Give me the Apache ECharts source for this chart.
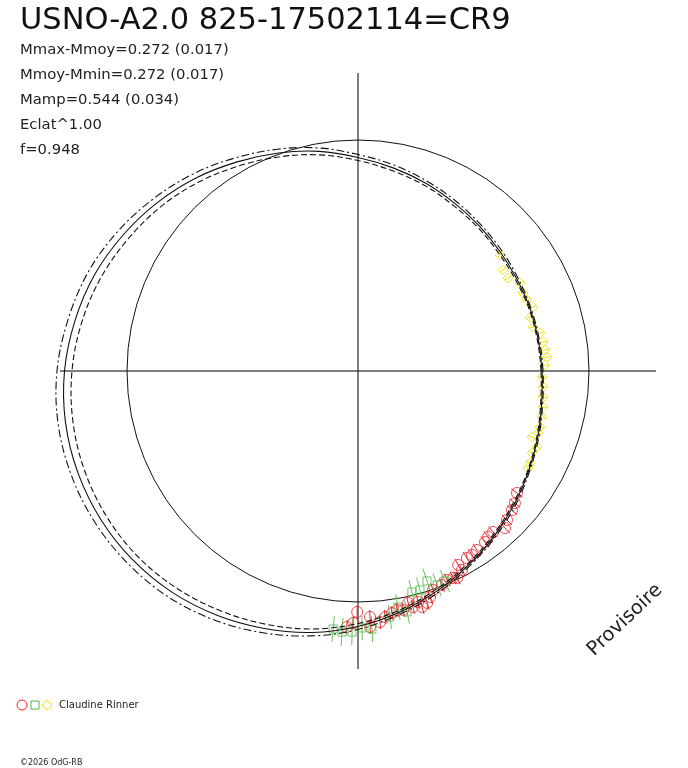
<!DOCTYPE html>
<html>
<head>
<meta charset="utf-8">
<script src="https://cdn.jsdelivr.net/npm/echarts@6/dist/echarts.min.js"></script>
<style>
html, body { margin: 0; padding: 0; background: #fff; }
#main { width: 688px; height: 768px; }
</style>
</head>
<body>
<div id="main"></div>
<script>
var myChart = echarts.init(document.getElementById('main'));

// fitted light curve, phase in degrees (0 = right, counter-clockwise)
var fitPhase = [0, 10, 20, 30, 40, 50, 60, 70, 80, 90, 100, 110, 120, 130, 140, 150, 160, 170, 180, 190, 200, 210, 220, 230, 240, 250, 260, 270, 280, 290, 300, 310, 320, 330, 340, 350];
var fitMid  = [184, 183, 183, 183.5, 185.5, 189, 193.5, 199.5, 206, 213.5, 223, 232, 241.5, 252, 262, 271.5, 280.5, 287.5, 293.5, 297, 298, 297, 294, 289, 282, 274, 265.5, 255.5, 244.5, 233.5, 223, 213.5, 205, 197.5, 191.5, 186.5];
var fitHigh = [185, 184, 184, 185, 187.5, 191, 196, 202, 209, 216.5, 226.5, 236, 246, 257, 267.5, 278, 287.5, 294.5, 301, 304.5, 305, 303.5, 300, 295, 287.5, 278.5, 269, 258.5, 246.5, 235.5, 224.5, 215, 206.5, 198.5, 192.5, 187.5];
var fitLow  = [183, 182, 182, 182, 183.5, 187, 191, 197, 203, 210.5, 219.5, 228, 237, 247, 256.5, 265, 273.5, 280.5, 286, 289.5, 291, 290.5, 288, 283, 276.5, 269.5, 262, 252.5, 242.5, 231.5, 221.5, 212, 203.5, 196.5, 190.5, 185.5];

// observations
var yellowPhase = [39.2, 34.9, 31.8, 28.5, 25.3, 22.8, 20.1, 17.4, 14.1, 11.8, 8.9, 6.4, 4.2, 1.8, 358.1, 355.1, 352.0, 349.0, 346.0, 342.9, 341.0, 339.2, 337.0, 334.8, 331.9, 330.3];
var yellowR = [183.4, 176.7, 176.5, 184.4, 182.5, 183.3, 186.3, 180.3, 180.4, 185.9, 187.3, 188.2, 189.5, 187.1, 184.1, 185.7, 186.8, 188.5, 189.7, 190.4, 190.4, 186.1, 194.5, 192.4, 195.1, 195.7];
var yellowErr = 4;

var redPhase = [322.5, 319.9, 317.9, 315.0, 313.1, 310.0, 308.1, 306.6, 303.6, 301.8, 300.2, 297.3, 297.6, 294.7, 295.6, 293.1, 291.4, 288.9, 287.7, 286.6, 285.2, 284.6, 283.1, 282.2, 280.7, 279.3, 278.0, 276.3, 275.0, 272.8, 269.8, 268.9, 267.5, 272.7];
var redR = [200.4, 205.1, 207.5, 210.7, 215.1, 210.1, 210.8, 213.0, 214.9, 216.5, 216.4, 218.3, 224.5, 227.8, 229.5, 227.2, 229.9, 231.5, 237.2, 242.0, 244.5, 238.7, 242.3, 237.3, 243.2, 242.2, 244.4, 247.5, 252.0, 246.3, 241.0, 252.0, 256.2, 256.3];
var redErr = 7;

var greenPhase = [264.5, 266.5, 268.7, 270.9, 273.1, 277.4, 279.6, 281.5, 283.7, 285.8, 288.2, 290.3, 292.5];
var greenR = [259.2, 261.5, 261.1, 257.0, 258.4, 248.1, 239.4, 245.9, 227.5, 227.6, 221.0, 228.1, 227.3];
var greenErr = [13, 14, 13, 12, 13, 12, 13, 12, 12, 13, 13, 12, 12];

var titleText = 'USNO-A2.0 825-17502114=CR9';
var infoLines = ['Mmax-Mmoy=0.272 (0.017)', 'Mmoy-Mmin=0.272 (0.017)', 'Mamp=0.544 (0.034)', 'Eclat^1.00', 'f=0.948'];
var observer = 'Claudine Rinner';

function pairs(rs, ph) {
    return rs.map(function (r, i) { return [r, ph[i]]; });
}
function withErr(rs, ph, err) {
    return rs.map(function (r, i) { return [r, ph[i], Array.isArray(err) ? err[i] : err]; });
}
function errBars(color) {
    return function (params, api) {
        var r = api.value(0), a = api.value(1), e = api.value(2);
        var p1 = api.coord([r - e, a]);
        var p2 = api.coord([r + e, a]);
        return {
            type: 'line',
            shape: { x1: p1[0], y1: p1[1], x2: p2[0], y2: p2[1] },
            style: { stroke: color, lineWidth: 1 }
        };
    };
}

var hidden = { show: false };
// closed smooth loop through all points of the series, drawn once
function curve(values, dash) {
    return {
        type: 'custom', coordinateSystem: 'polar', polarIndex: 2, z: 5,
        data: pairs(values, fitPhase),
        renderItem: function (params, api) {
            if (params.dataIndexInside !== 0) return;
            var pts = [];
            for (var j = 0; j < params.dataInsideLength; j++) {
                pts.push(api.coord([api.value(0, j), api.value(1, j)]));
            }
            return {
                type: 'polygon',
                shape: { points: pts, smooth: 0.35 },
                style: { fill: 'none', stroke: '#111', lineWidth: 1.1, lineDash: dash }
            };
        }
    };
}

var baseFont = 'DejaVu Sans';
var graphics = [
    { type: 'text', x: 20, y: 21, style: { text: titleText, fontSize: 30.5, fontFamily: baseFont, fill: '#111', verticalAlign: 'middle' } }
];
infoLines.forEach(function (t, i) {
    graphics.push({ type: 'text', x: 20, y: 50 + i * 25, style: { text: t, fontSize: 14.8, fontFamily: baseFont, fill: '#222', verticalAlign: 'middle' } });
});
graphics.push(
    { type: 'circle', shape: { cx: 22, cy: 705, r: 5 }, style: { fill: 'none', stroke: '#e8262c', lineWidth: 1 } },
    { type: 'rect', shape: { x: 31, y: 701, width: 8, height: 8 }, style: { fill: 'none', stroke: '#4db848', lineWidth: 1 } },
    { type: 'polygon', shape: { points: [[47, 700], [52, 705], [47, 710], [42, 705]] }, style: { fill: 'none', stroke: '#f2e200', lineWidth: 1 } },
    { type: 'text', x: 59, y: 705, style: { text: observer, fontSize: 10, fontFamily: baseFont, fill: '#222', verticalAlign: 'middle' } },
    { type: 'text', x: 20, y: 763, style: { text: '\u00a92026 OdG-RB', fontSize: 8, fontFamily: baseFont, fill: '#222', verticalAlign: 'middle' } },
    { type: 'text', x: 625, y: 620, rotation: 0.76, style: { text: 'Provisoire', fontSize: 19.5, fontFamily: baseFont, fill: '#222', align: 'center', verticalAlign: 'middle' } }
);

function bareRadius(idx, max) {
    return { polarIndex: idx, type: 'value', min: 0, max: max, axisLine: hidden, axisTick: hidden, axisLabel: hidden, splitLine: hidden };
}

var option = {
    backgroundColor: '#fff',
    animation: false,
    polar: [
        { center: [358, 371], radius: 298 },   // cross hair
        { center: [358, 371], radius: 231 },   // mean magnitude circle
        { center: [358, 371], radius: 330 }    // data
    ],
    angleAxis: [
        {
            polarIndex: 0, type: 'value', min: 0, max: 360, interval: 90, startAngle: 0, clockwise: false,
            axisLine: hidden, axisTick: hidden, axisLabel: hidden,
            splitLine: { show: true, lineStyle: { color: '#000', width: 1 } }
        },
        {
            polarIndex: 1, type: 'value', min: 0, max: 360, startAngle: 0, clockwise: false,
            axisLine: { show: true, lineStyle: { color: '#111', width: 1 } },
            axisTick: hidden, axisLabel: hidden, splitLine: hidden
        },
        {
            polarIndex: 2, type: 'value', min: 0, max: 360, startAngle: 0, clockwise: false,
            axisLine: hidden, axisTick: hidden, axisLabel: hidden, splitLine: hidden
        }
    ],
    radiusAxis: [bareRadius(0, 298), bareRadius(1, 231), bareRadius(2, 330)],
    graphic: graphics,
    series: [
        { type: 'custom', coordinateSystem: 'polar', polarIndex: 2, data: withErr(greenR, greenPhase, greenErr), renderItem: errBars('#6cc05a'), z: 2 },
        { type: 'custom', coordinateSystem: 'polar', polarIndex: 2, data: withErr(redR, redPhase, redErr), renderItem: errBars('#e8262c'), z: 2 },
        { type: 'custom', coordinateSystem: 'polar', polarIndex: 2, data: withErr(yellowR, yellowPhase, yellowErr), renderItem: errBars('#f2e200'), z: 2 },
        {
            type: 'scatter', coordinateSystem: 'polar', polarIndex: 2, data: pairs(redR, redPhase),
            symbol: 'circle', symbolSize: 11, z: 3,
            itemStyle: { color: 'transparent', borderColor: '#e8262c', borderWidth: 1 }
        },
        {
            type: 'scatter', coordinateSystem: 'polar', polarIndex: 2, data: pairs(greenR, greenPhase),
            symbol: 'rect', symbolSize: 8, z: 3,
            itemStyle: { color: 'transparent', borderColor: '#4db848', borderWidth: 1 }
        },
        {
            type: 'scatter', coordinateSystem: 'polar', polarIndex: 2, data: pairs(yellowR, yellowPhase),
            symbol: 'diamond', symbolSize: [10, 10], z: 3,
            itemStyle: { color: 'transparent', borderColor: '#f2e200', borderWidth: 1 }
        },
        curve(fitMid, null),
        curve(fitHigh, [8, 3, 2, 3]),
        curve(fitLow, [6, 3])
    ]
};

myChart.setOption(option);
</script>
</body>
</html>
